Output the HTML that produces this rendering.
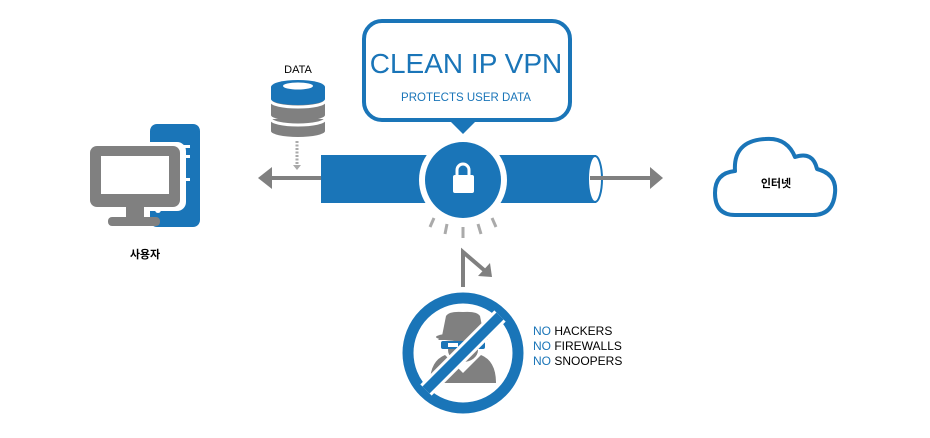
<!DOCTYPE html>
<html><head><meta charset="utf-8"><style>
body{margin:0;background:#fff;width:930px;height:433px;overflow:hidden}
text{font-family:"Liberation Sans","Noto Sans CJK KR",sans-serif}
</style></head><body>
<svg width="930" height="433" viewBox="0 0 930 433" xmlns="http://www.w3.org/2000/svg">
<!-- computer -->
<rect x="150" y="124" width="50" height="103" rx="7" fill="#1a75b8"/>
<rect x="180" y="145" width="10" height="3" fill="#fff"/>
<rect x="180" y="155" width="10" height="3" fill="#fff"/>
<rect x="183" y="178" width="7" height="3" fill="#fff"/>
<rect x="86" y="142" width="100" height="69" rx="9" fill="#fff"/>
<rect x="90" y="146" width="90" height="61" rx="7" fill="#808080"/>
<rect x="101" y="156" width="68" height="38" fill="#fff"/>
<circle cx="158" cy="210" r="3" fill="#fff"/>
<rect x="126" y="205" width="18" height="12" fill="#808080"/>
<rect x="108" y="217" width="52" height="9" rx="4" fill="#808080"/>
<text x="145" y="258" font-size="11" font-weight="bold" text-anchor="middle">사용자</text>
<!-- database -->
<text x="298" y="73" font-size="11" text-anchor="middle">DATA</text>
<path d="M271 119 v12 a27 6 0 0 0 54 0 v-12 z" fill="#808080"/>
<path d="M271 119 a27 6 0 0 0 54 0" fill="none" stroke="#fff" stroke-width="3"/>
<path d="M271 101 v14 a27 6 0 0 0 54 0 v-14 z" fill="#808080"/>
<path d="M271 101 a27 6 0 0 0 54 0" fill="none" stroke="#fff" stroke-width="3"/>
<path d="M271 87 v12 a27 6 0 0 0 54 0 v-12 a27 7 0 0 0 -54 0 z" fill="#1a75b8"/>
<ellipse cx="298" cy="86" rx="15" ry="3.5" fill="#fff"/>
<line x1="297" y1="141" x2="297" y2="166" stroke="#aaa" stroke-width="3" stroke-dasharray="2,1.5"/>
<polygon points="293,165 301,165 297,170" fill="#aaa"/>
<!-- arrows -->
<line x1="270" y1="178" x2="330" y2="178" stroke="#808080" stroke-width="4"/>
<polygon points="258,178 272,167 272,189" fill="#808080"/>
<!-- tube -->
<rect x="321" y="155" width="275" height="48" fill="#1a75b8"/>
<ellipse cx="595" cy="179" rx="7" ry="23" fill="#fff" stroke="#1a75b8" stroke-width="2"/>
<line x1="590" y1="178" x2="652" y2="178" stroke="#808080" stroke-width="4"/>
<polygon points="663,178 650,167 650,189" fill="#808080"/>
<circle cx="463" cy="180" r="44" fill="#fff"/>
<circle cx="463" cy="180" r="38" fill="#1a75b8"/>
<path d="M457 176 v-6 a6 6 0 0 1 12 0 v6" fill="none" stroke="#fff" stroke-width="3"/>
<rect x="453" y="175" width="21" height="18" rx="2" fill="#fff"/>
<!-- bubble -->
<rect x="364" y="21" width="206" height="99" rx="18" fill="#fff" stroke="#1a75b8" stroke-width="4"/>
<polygon points="450,121 476,121 463,134" fill="#1a75b8"/>
<text x="466" y="73" font-size="28" fill="#1a75b8" text-anchor="middle">CLEAN IP VPN</text>
<text x="466" y="101" font-size="11.5" fill="#1a75b8" text-anchor="middle">PROTECTS USER DATA</text>
<!-- rays -->
<g stroke="#aaa" stroke-width="3">
<line x1="434" y1="218" x2="430" y2="227"/>
<line x1="447" y1="224" x2="445" y2="234"/>
<line x1="463" y1="227" x2="463" y2="238"/>
<line x1="478" y1="224" x2="481" y2="234"/>
<line x1="492" y1="218" x2="496" y2="227"/>
</g>
<!-- bent arrow -->
<path d="M463 287 V252 L484 270" fill="none" stroke="#808080" stroke-width="4"/>
<polygon points="492,277 478,276 490,263" fill="#808080"/>
<!-- hacker -->
<path d="M438 340 h50 l-4 -4 l-4 -20 q-3-5-17-4 q-14 -1-17 4 l-4 20 z" fill="#808080"/>
<ellipse cx="463" cy="337" rx="27" ry="4" fill="#808080"/>
<path d="M430 383 q0 -22 15 -28 l18 18 l18 -18 q15 6 15 28 z" fill="#808080"/>
<ellipse cx="463" cy="350" rx="15" ry="12" fill="#808080"/>
<rect x="441" y="341" width="44" height="8" rx="2" fill="#1a75b8"/>
<rect x="448" y="343" width="10" height="4" fill="#fff"/>
<rect x="468" y="343" width="10" height="4" fill="#fff"/>
<circle cx="463" cy="353" r="55" fill="none" stroke="#1a75b8" stroke-width="11"/>
<line x1="426" y1="390" x2="500" y2="316" stroke="#fff" stroke-width="16"/>
<line x1="426" y1="390" x2="500" y2="316" stroke="#1a75b8" stroke-width="10"/>
<text x="533" y="335" font-size="12"><tspan fill="#1a75b8">NO</tspan> HACKERS</text>
<text x="533" y="350" font-size="12"><tspan fill="#1a75b8">NO</tspan> FIREWALLS</text>
<text x="533" y="365" font-size="12"><tspan fill="#1a75b8">NO</tspan> SNOOPERS</text>
<!-- cloud -->
<path d="M735 215 q-20 0-20-22 q0-20 20-22 q-2-30 30-32 q22-2 30 18 q18-6 22 12 q20 5 18 24 q-2 22-22 22 z" fill="#fff" stroke="#1a75b8" stroke-width="4" stroke-linejoin="round"/>
<text x="776" y="187" font-size="11" font-weight="bold" text-anchor="middle">인터넷</text>
</svg>
</body></html>
